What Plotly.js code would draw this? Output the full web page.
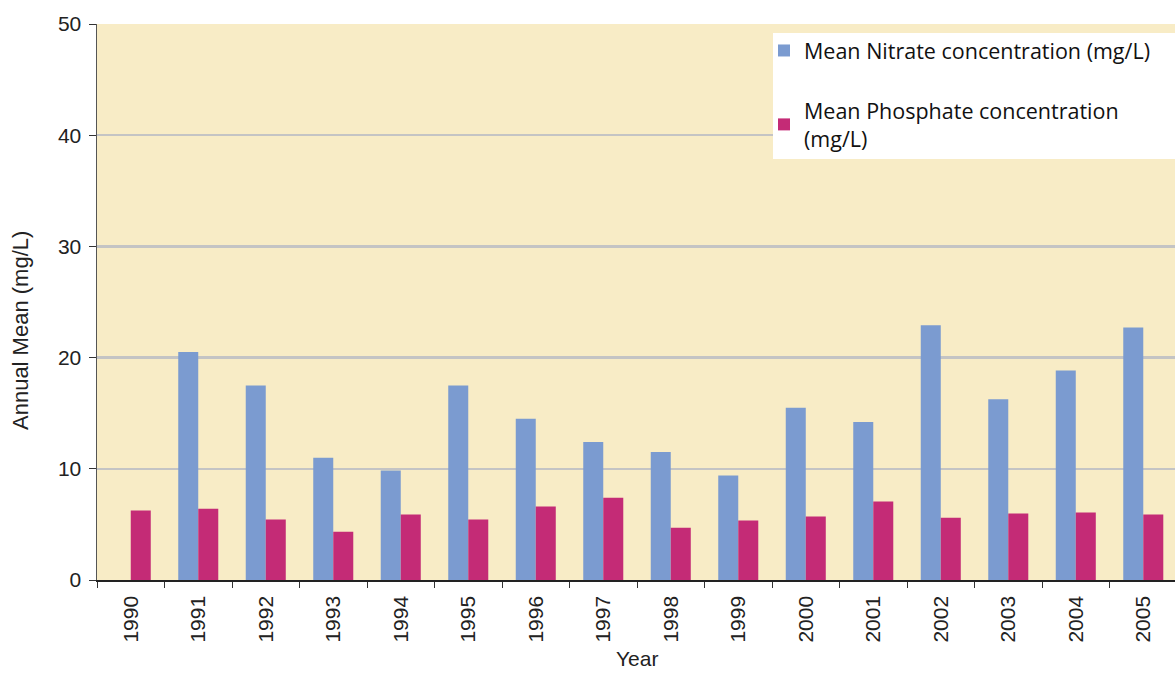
<!DOCTYPE html>
<html>
<head>
<meta charset="utf-8">
<script src="https://cdn.plot.ly/plotly-3.0.1.min.js"></script>
<style>html,body{margin:0;padding:0;background:#fff;}#chart{width:1175px;height:673px;}</style>
</head>
<body>
<div id="chart"></div>
<script>
const years = ['1990','1991','1992','1993','1994','1995','1996','1997','1998','1999','2000','2001','2002','2003','2004','2005'];
const nitrate = [0, 20.5, 17.5, 11.0, 9.85, 17.5, 14.5, 12.4, 11.5, 9.4, 15.5, 14.2, 22.9, 16.25, 18.85, 22.7];
const phosphate = [6.25, 6.4, 5.45, 4.35, 5.9, 5.45, 6.6, 7.4, 4.7, 5.35, 5.7, 7.05, 5.6, 5.97, 6.06, 5.88];
const seriesNames = ['Mean Nitrate concentration (mg/L)', 'Mean Phosphate concentration<br>(mg/L)'];
const yTitle = 'Annual Mean (mg/L)';
const xTitle = 'Year';

const traces = [
  {type:'bar', x:years, y:nitrate, name:seriesNames[0], legendgroup:'a', marker:{color:'#7b9bd0'}},
  {type:'bar', x:years, y:phosphate, name:seriesNames[1], legendgroup:'b', marker:{color:'#c42b76'}}
];

const W = 1175, H = 673, L = 97, T = 24, B = 93;
const pw = W - L, ph = H - T - B;
const px2x = p => (p - L) / pw;
const py2y = p => (H - B - p) / ph;

const tickFont = {family:'Liberation Sans, Arial, sans-serif', size:21, color:'#222'};
const layout = {
  width:W, height:H,
  margin:{l:L, r:0, t:T, b:B},
  paper_bgcolor:'#ffffff',
  plot_bgcolor:'#f8ecc6',
  barmode:'group',
  bargap:0.407,
  bargroupgap:0,
  showlegend:true,
  legend:{
    x:px2x(764), y:py2y(30), xanchor:'left', yanchor:'top',
    bgcolor:'rgba(0,0,0,0)', borderwidth:0,
    font:{family:'Open Sans, Noto Sans, sans-serif', size:21.5, color:'#111'},
    traceorder:'grouped', tracegroupgap:29,
    itemwidth:30
  },
  shapes:[
    {type:'rect', xref:'paper', yref:'paper', x0:px2x(773), x1:1.01, y0:py2y(159), y1:py2y(33),
     fillcolor:'#ffffff', line:{width:0}, layer:'above'}
  ],
  annotations:[
    {text:yTitle, xref:'paper', yref:'paper', x:px2x(20), y:py2y(331), xanchor:'center', yanchor:'middle',
     textangle:-90, showarrow:false, font:{family:'Liberation Sans, Arial, sans-serif', size:22, color:'#222'}},
    {text:xTitle, xref:'paper', yref:'paper', x:px2x(637), y:py2y(672), xanchor:'center', yanchor:'bottom',
     showarrow:false, font:{family:'Liberation Sans, Arial, sans-serif', size:21, color:'#222'}}
  ],
  xaxis:{
    type:'category',
    range:[-0.5, 15.47],
    tickangle:-90,
    tickfont:tickFont,
    ticks:'outside', ticklen:6, tickcolor:'#333', tickson:'boundaries',
    ticklabelstandoff:6,
    showline:true, linecolor:'#222', linewidth:1.5,
    showgrid:false
  },
  yaxis:{
    range:[0,50],
    tickvals:[0,10,20,30,40,50],
    tickfont:tickFont,
    ticks:'outside', ticklen:7, tickcolor:'#333',
    ticklabelstandoff:3,
    showline:true, linecolor:'#555', linewidth:1.5,
    showgrid:true, gridcolor:'#c4c4c4', gridwidth:2.5,
    zeroline:false
  }
};

Plotly.newPlot('chart', traces, layout, {displayModeBar:false, staticPlot:true});
</script>
</body>
</html>
